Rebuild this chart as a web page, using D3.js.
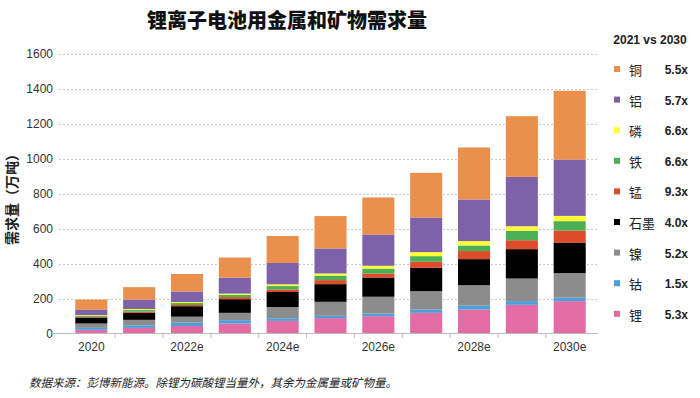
<!DOCTYPE html>
<html>
<head>
<meta charset="utf-8">
<script src="https://cdn.jsdelivr.net/npm/d3@7"></script>
<style>
  body { margin: 0; background: #fff; }
  svg { display: block; font-family: "Noto Sans CJK SC", "Liberation Sans", sans-serif; }
</style>
</head>
<body>
<div id="chart"></div>
<script>
// categories
var years = ["2020", "2021", "2022e", "2023e", "2024e", "2025e", "2026e", "2027e", "2028e", "2029e", "2030e"];
var shownYears = ["2020", "2022e", "2024e", "2026e", "2028e", "2030e"];

// series, bottom to top (万吨)
var lithium  = [21, 32, 43, 57, 72, 88, 99, 118, 137, 164, 185];
var cobalt   = [11, 15, 19, 19, 15, 13, 15, 19, 23, 21, 20];
var nickel   = [25, 31, 34, 42, 64, 80, 96, 105, 116, 129, 140];
var graphite = [34, 40, 60, 78, 86, 101, 110, 133, 149, 168, 175];
var manganese = [4, 7, 7, 12, 14, 23, 23, 35, 46, 51, 68];
var iron     = [6, 9, 11, 13, 20, 26, 28, 32, 32, 54, 54];
var phosphorus = [4, 6, 6, 7, 10, 12, 16, 23, 25, 26, 30];
var aluminium = [32, 54, 60, 91, 122, 143, 179, 198, 238, 282, 322];
var copper   = [57, 71, 100, 115, 154, 185, 211, 255, 297, 347, 393];

var seriesNames = ["锂", "钴", "镍", "石墨", "锰", "铁", "磷", "铝", "铜"];
var seriesKeys = ["li", "co", "ni", "gr", "mn", "fe", "p", "al", "cu"];
var seriesColors = ["#e36ca4", "#4a9fdc", "#8c8c8c", "#000000", "#de4b2b", "#4cae55", "#ffff33", "#7d61a9", "#eb904c"];
var ratios = ["5.3x", "1.5x", "5.2x", "4.0x", "9.3x", "6.6x", "6.6x", "5.7x", "5.5x"];
var yTicks = [0, 200, 400, 600, 800, 1000, 1200, 1400, 1600];

var W = 700, H = 398;
var svg = d3.select("#chart").append("svg").attr("width", W).attr("height", H);

var allSeries = [lithium, cobalt, nickel, graphite, manganese, iron, phosphorus, aluminium, copper];
var rows = years.map(function(y, i) {
  var r = { year: y };
  seriesKeys.forEach(function(k, j) { r[k] = allSeries[j][i]; });
  return r;
});

var x = d3.scaleBand().domain(years).range([59.5, 601.5]).padding(0.33);
var y = d3.scaleLinear().domain([0, 1600]).range([333.5, 53.5]);

// gridlines
svg.append("g").selectAll("line")
  .data(yTicks.slice(1))
  .enter().append("line")
  .attr("x1", 59).attr("x2", 598)
  .attr("y1", function(d) { return Math.round(y(d)) + 0.5; })
  .attr("y2", function(d) { return Math.round(y(d)) + 0.5; })
  .attr("stroke", "#c8c8c8")
  .attr("stroke-dasharray", "2,2");

// y axis labels
var yAxis = d3.axisLeft(y).tickValues(yTicks).tickFormat(d3.format("d")).tickSize(0).tickPadding(6);
var gy = svg.append("g").attr("transform", "translate(59,0)").call(yAxis);
gy.select(".domain").remove();
gy.selectAll("text").attr("font-size", 12).attr("fill", "#333")
  .attr("font-family", "Liberation Sans, Arial, sans-serif");

// stacked bars
var stack = d3.stack().keys(seriesKeys);
var layers = stack(rows);
svg.append("g").selectAll("g")
  .data(layers)
  .enter().append("g")
  .attr("fill", function(d, i) { return seriesColors[i]; })
  .selectAll("rect")
  .data(function(d) { return d; })
  .enter().append("rect")
  .attr("x", function(d) { return x(d.data.year); })
  .attr("y", function(d) { return y(d[1]); })
  .attr("width", x.bandwidth())
  .attr("height", function(d) { return y(d[0]) - y(d[1]); });

// x axis
var xAxis = d3.axisBottom(x).tickSize(0).tickPadding(9)
  .tickFormat(function(d) { return shownYears.indexOf(d) >= 0 ? d : ""; });
var gx = svg.append("g").attr("transform", "translate(0,333.5)").call(xAxis);
gx.select(".domain").attr("d", "M52,0H598").attr("stroke", "#bbb");
gx.selectAll("text").attr("font-size", 12).attr("fill", "#333")
  .attr("font-family", "Liberation Sans, Arial, sans-serif");
// boundary ticks between categories
svg.append("g").selectAll("line")
  .data(years.slice(1))
  .enter().append("line")
  .attr("x1", function(d) { return x(d) - x.step() * x.paddingInner() / 2; })
  .attr("x2", function(d) { return x(d) - x.step() * x.paddingInner() / 2; })
  .attr("y1", 333.5).attr("y2", 338)
  .attr("stroke", "#bbb");

// title
svg.append("text")
  .attr("x", 287).attr("y", 28)
  .attr("text-anchor", "middle")
  .attr("font-size", 20).attr("font-weight", 900)
  .attr("fill", "#111")
  .text("锂离子电池用金属和矿物需求量");

// y axis title
svg.append("text")
  .attr("transform", "translate(17,196) rotate(-90)")
  .attr("text-anchor", "middle")
  .attr("font-size", 14).attr("font-weight", 700)
  .attr("fill", "#222")
  .text("需求量（万吨）");

// legend
svg.append("text")
  .attr("x", 650).attr("y", 44)
  .attr("text-anchor", "middle")
  .attr("font-size", 12).attr("font-weight", 700)
  .attr("font-family", "Liberation Sans, Arial, sans-serif")
  .attr("fill", "#222")
  .text("2021 vs 2030");

var legendOrder = d3.range(seriesNames.length).reverse();
var lg = svg.append("g").selectAll("g")
  .data(legendOrder)
  .enter().append("g")
  .attr("transform", function(d, i) { return "translate(0," + (70 + i * 30.6) + ")"; });
lg.append("rect")
  .attr("x", 614).attr("y", -4).attr("width", 6).attr("height", 6)
  .attr("fill", function(d) { return seriesColors[d]; });
lg.append("text")
  .attr("x", 629).attr("y", 5)
  .attr("font-size", 13).attr("fill", "#222")
  .text(function(d) { return seriesNames[d]; });
lg.append("text")
  .attr("x", 688).attr("y", 4)
  .attr("text-anchor", "end")
  .attr("font-size", 12).attr("font-weight", 700)
  .attr("font-family", "Liberation Sans, Arial, sans-serif")
  .attr("fill", "#222")
  .text(function(d) { return ratios[d]; });

// source note
svg.append("text")
  .attr("x", 29).attr("y", 387)
  .attr("font-size", 11.5).attr("font-style", "italic")
  .attr("fill", "#222")
  .text("数据来源：彭博新能源。除锂为碳酸锂当量外，其余为金属量或矿物量。");
</script>
</body>
</html>
